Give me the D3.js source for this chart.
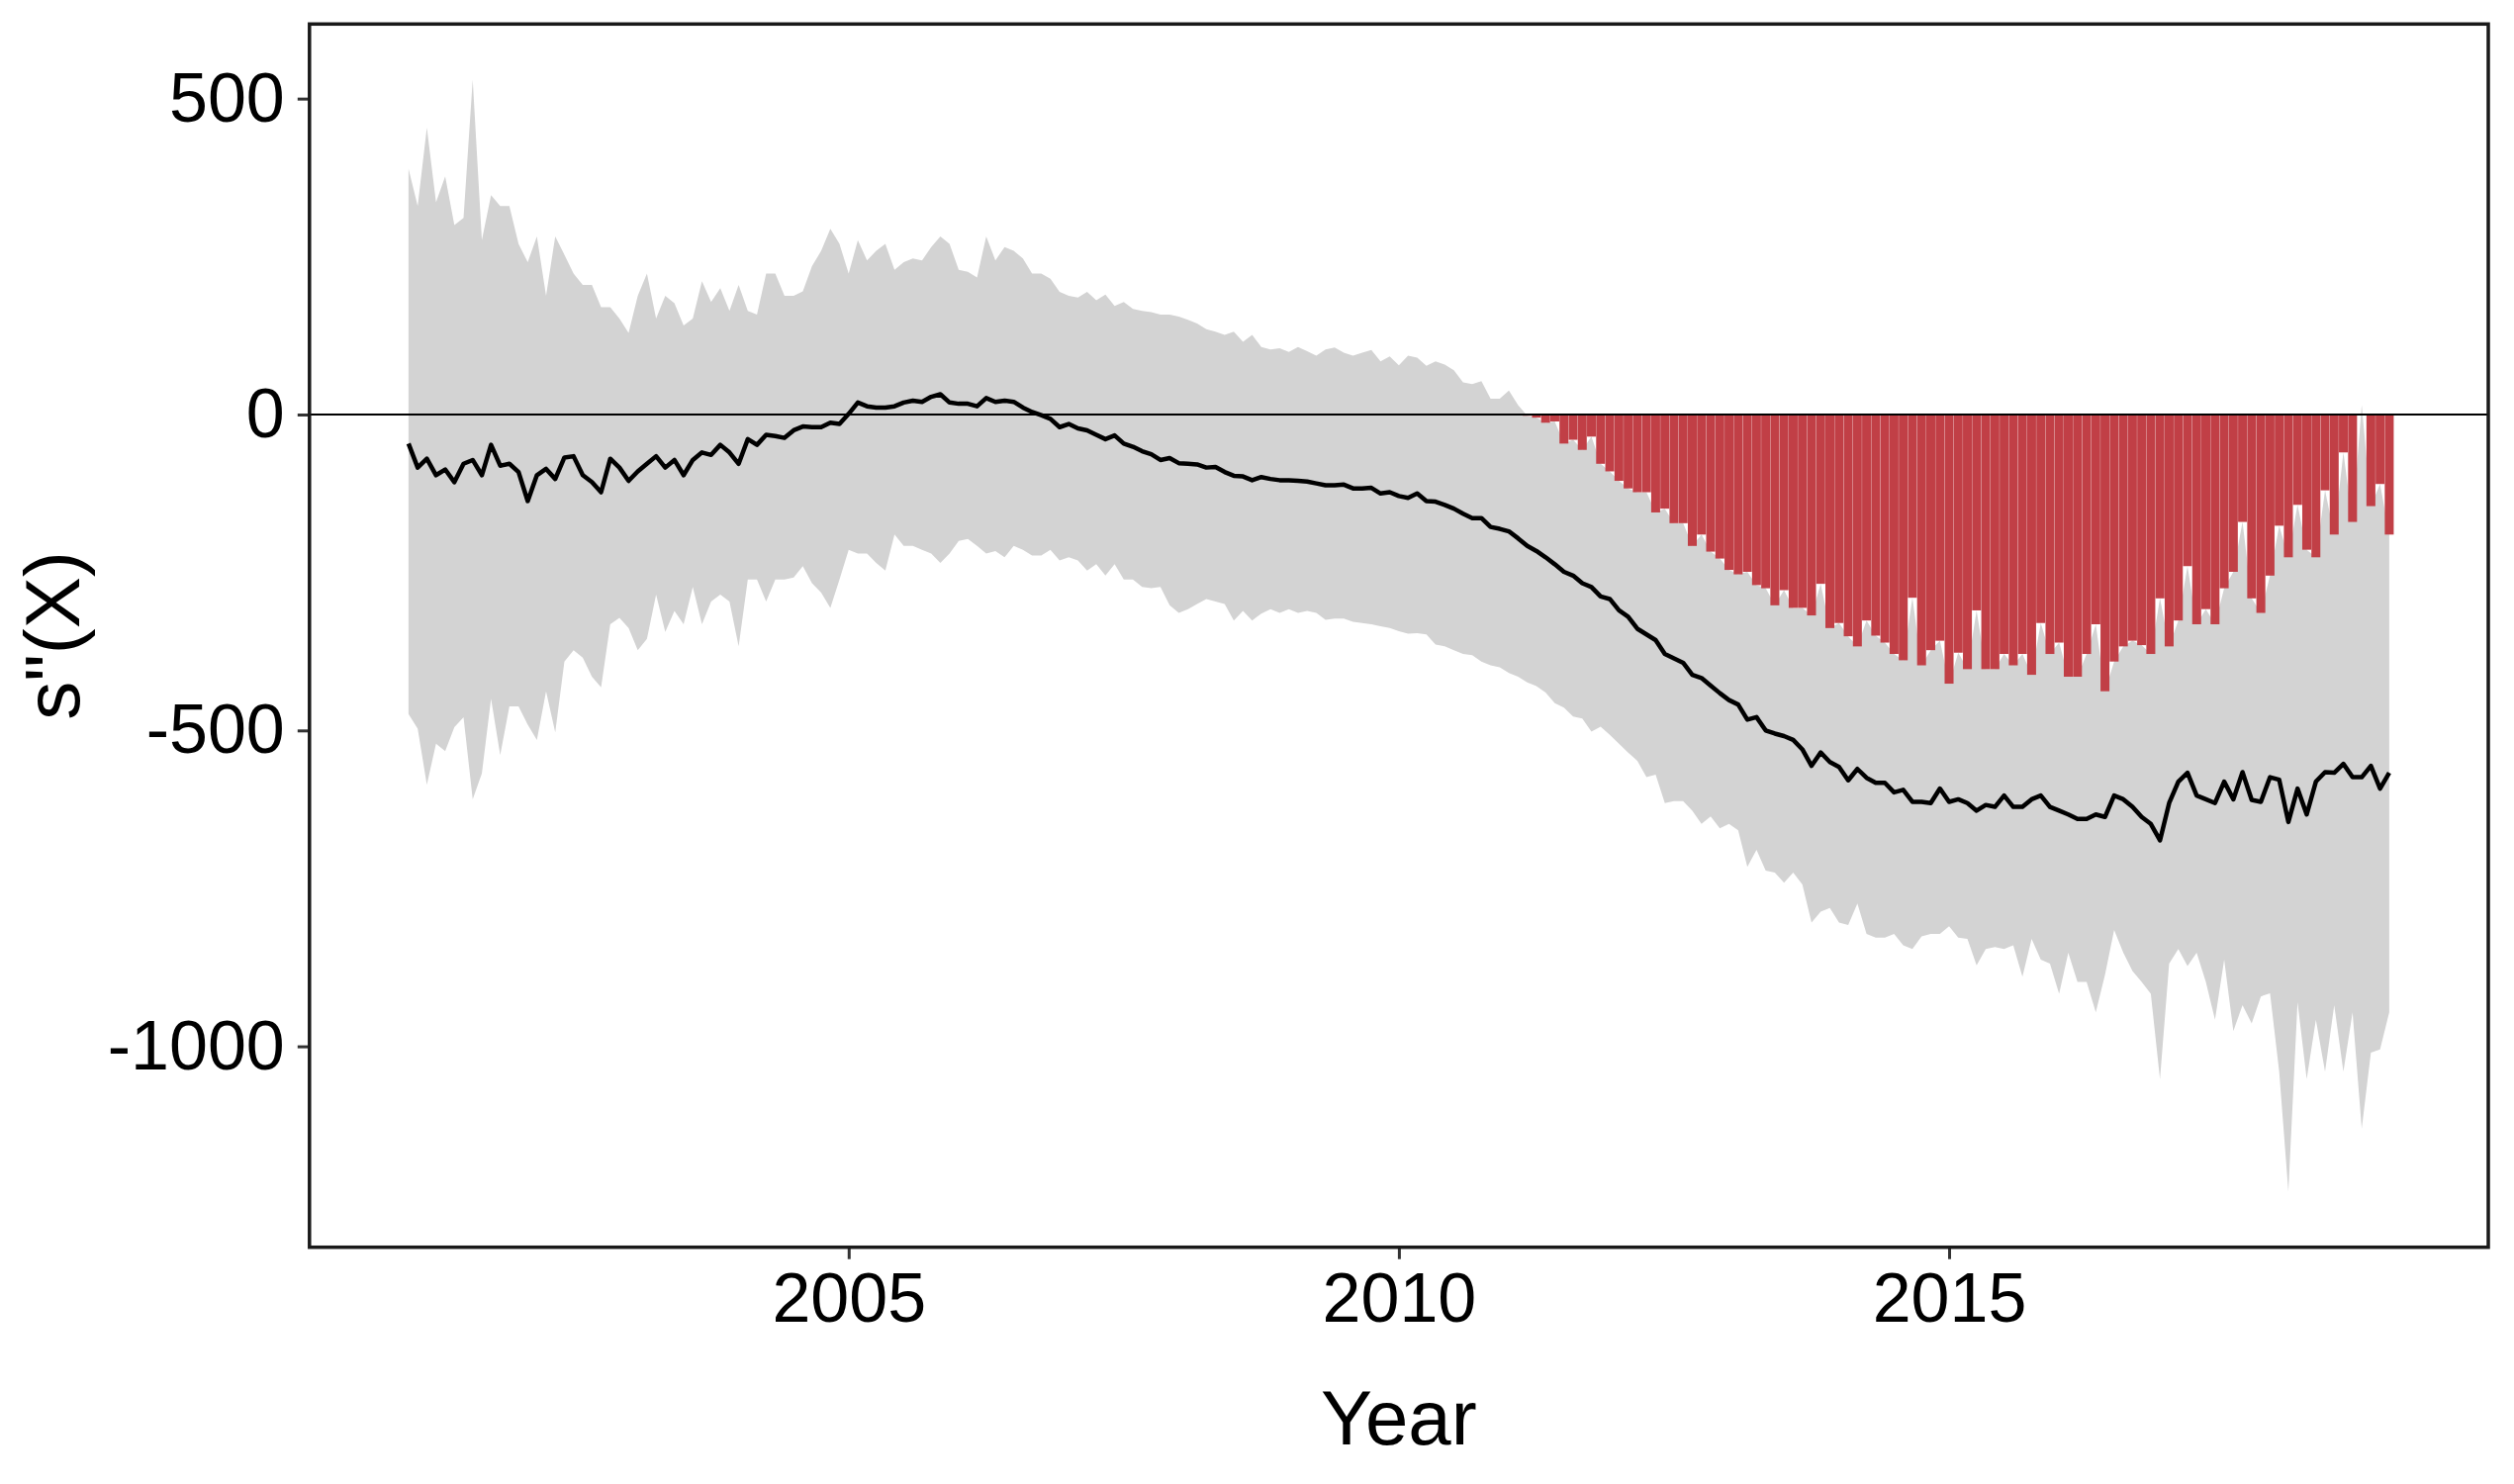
<!DOCTYPE html>
<html>
<head>
<meta charset="utf-8">
<script src="https://cdn.jsdelivr.net/npm/d3@7"></script>
<style>
  html, body { margin: 0; padding: 0; background: #ffffff; }
  svg { display: block; }
  text { font-family: "Liberation Sans", Arial, Helvetica, sans-serif; }
</style>
</head>
<body>
<svg id="chart" width="2541" height="1500"></svg>
<script>
// ---- Data (monthly samples, Jan 2001 .. Jan 2019) ----
const startYear = 2001;
const stepsPerYear = 12;

const estimate = [
  -46,-84,-70,-96,-87,-107,-78,-72,-96,-48,-81,-78,-91,-137,-96,-86,-102,-68,-66,-96,
  -107,-123,-70,-84,-105,-90,-78,-66,-84,-72,-96,-72,-60,-64,-48,-60,-78,-39,-48,-32,
  -34,-37,-25,-19,-20,-20,-13,-15,1,19,13,11,11,13,19,22,20,28,32,19,
  17,17,13,26,20,22,20,11,4,-1,-7,-20,-15,-22,-25,-32,-39,-33,-46,-51,
  -58,-63,-72,-69,-77,-78,-79,-84,-83,-91,-97,-98,-104,-99,-102,-104,-104,-105,-106,-109,
  -112,-112,-111,-117,-117,-116,-125,-123,-129,-132,-125,-137,-138,-143,-149,-157,-164,-164,-178,-181,
  -185,-196,-208,-216,-226,-237,-249,-255,-267,-273,-288,-292,-310,-320,-339,-348,-357,-379,-386,-393,
  -412,-417,-429,-441,-452,-459,-483,-479,-500,-505,-509,-515,-530,-556,-535,-550,-558,-579,-561,-575,
  -583,-583,-598,-594,-613,-613,-615,-592,-613,-609,-615,-627,-618,-621,-603,-621,-621,-609,-603,-621,
  -627,-633,-640,-640,-633,-637,-603,-609,-621,-637,-648,-674,-615,-581,-567,-603,-609,-615,-581,-609,
  -566,-610,-613,-574,-578,-645,-592,-633,-581,-566,-567,-553,-574,-574,-556,-592,-567
];

const upper = [
  389,330,454,336,377,300,311,530,276,347,330,330,270,241,282,188,282,253,223,205,
  205,170,170,152,129,188,223,152,188,176,141,152,211,178,200,164,205,164,158,223,
  223,188,188,195,235,259,294,270,223,276,244,259,270,229,241,247,244,265,282,270,
  229,226,217,282,244,265,259,247,223,223,215,194,188,185,194,181,190,172,178,167,
  164,162,158,158,155,150,144,135,131,126,131,115,126,107,103,105,99,107,100,93,
  103,106,98,93,98,102,84,92,78,93,90,77,84,79,70,51,48,53,25,25,
  38,15,-2,-5,-13,-11,-46,-40,-56,-35,-78,-90,-105,-117,-123,-123,-155,-149,-172,-172,
  -208,-190,-217,-228,-246,-253,-249,-270,-275,-302,-278,-306,-306,-318,-268,-338,-330,-351,-367,-326,
  -350,-361,-379,-389,-290,-397,-373,-358,-426,-377,-403,-310,-403,-403,-379,-397,-379,-412,-330,-379,
  -361,-415,-415,-379,-332,-438,-391,-367,-358,-365,-379,-291,-367,-326,-240,-332,-308,-332,-275,-249,
  -170,-291,-314,-255,-176,-226,-143,-214,-226,-120,-190,-60,-170,15,-145,-110,-190
];

const lower = [
  -474,-497,-586,-521,-533,-495,-479,-609,-568,-450,-539,-462,-462,-491,-515,-438,-503,-391,-373,-385,
  -415,-432,-332,-322,-338,-373,-355,-285,-344,-311,-332,-273,-332,-296,-285,-296,-367,-261,-261,-296,
  -261,-261,-258,-240,-267,-282,-306,-261,-214,-220,-220,-235,-247,-190,-208,-208,-214,-220,-235,-220,
  -200,-197,-208,-220,-216,-226,-208,-214,-223,-223,-214,-231,-226,-231,-247,-237,-255,-237,-261,-261,
  -273,-275,-273,-302,-314,-308,-300,-292,-296,-300,-326,-311,-326,-315,-308,-314,-308,-314,-311,-314,
  -325,-323,-323,-328,-330,-332,-335,-338,-343,-347,-346,-348,-364,-367,-373,-379,-381,-391,-397,-400,
  -409,-415,-424,-430,-440,-457,-464,-478,-481,-502,-494,-507,-521,-535,-548,-574,-570,-615,-612,-612,
  -627,-648,-636,-655,-648,-658,-716,-689,-722,-725,-741,-725,-744,-804,-787,-781,-804,-808,-774,-822,
  -828,-828,-822,-840,-846,-826,-822,-822,-810,-828,-830,-872,-846,-843,-846,-840,-890,-830,-863,-869,
  -917,-852,-898,-898,-946,-887,-816,-852,-881,-898,-917,-1052,-869,-846,-873,-852,-898,-958,-863,-976,
  -935,-964,-921,-916,-1040,-1230,-930,-1052,-958,-1040,-935,-1040,-946,-1130,-1010,-1005,-946
];

const xTicks = [2005, 2010, 2015];
const yTicks = [-1000, -500, 0, 500];
const xTitle = "Year";
const yTitle = 's"(X)';

// ---- Build rows ----
const data = estimate.map((v, i) => ({
  t: startYear + i / stepsPerYear,
  est: v,
  up: upper[i],
  lo: lower[i]
}));

// ---- Layout ----
const panel = { left: 312.8, right: 2515, top: 24.3, bottom: 1260.7 };
const svg = d3.select("#chart");

const tExtent = d3.extent(data, d => d.t);
const tPad = (tExtent[1] - tExtent[0]) * 0.05;
const x = d3.scaleLinear()
  .domain([tExtent[0] - tPad, tExtent[1] + tPad])
  .range([panel.left, panel.right]);

const yMin = d3.min(lower), yMax = d3.max(upper);
const yPad = (yMax - yMin) * 0.05;
const y = d3.scaleLinear()
  .domain([yMin - yPad, yMax + yPad])
  .range([panel.bottom, panel.top]);

// clip to panel
svg.append("defs").append("clipPath").attr("id", "clip")
  .append("rect")
  .attr("x", panel.left).attr("y", panel.top)
  .attr("width", panel.right - panel.left)
  .attr("height", panel.bottom - panel.top);

const plot = svg.append("g").attr("clip-path", "url(#clip)");

// ribbon
const area = d3.area()
  .x(d => x(d.t))
  .y0(d => y(d.lo))
  .y1(d => y(d.up));
plot.append("path")
  .datum(data)
  .attr("d", area)
  .attr("fill", "#d3d3d3");

// red bars where upper bound below zero
const step = x(startYear + 1 / stepsPerYear) - x(startYear);
const bw = step - 0.25;
plot.append("g")
  .selectAll("rect")
  .data(data.filter(d => d.up < 0))
  .join("rect")
  .attr("x", d => x(d.t) - bw / 2)
  .attr("y", y(0))
  .attr("width", bw)
  .attr("height", d => y(d.up) - y(0))
  .attr("fill", "#c13f46");

// zero line
plot.append("line")
  .attr("x1", panel.left).attr("x2", panel.right)
  .attr("y1", y(0)).attr("y2", y(0))
  .attr("stroke", "#000000")
  .attr("stroke-width", 1.8);

// estimate line
const line = d3.line()
  .x(d => x(d.t))
  .y(d => y(d.est));
plot.append("path")
  .datum(data)
  .attr("d", line)
  .attr("fill", "none")
  .attr("stroke", "#000000")
  .attr("stroke-width", 4.5)
  .attr("stroke-linejoin", "round");

// axes
const yAxis = svg.append("g")
  .attr("transform", `translate(${panel.left},0)`)
  .call(d3.axisLeft(y).tickValues(yTicks).tickFormat(d => String(d)).tickSize(12).tickPadding(13));
const xAxis = svg.append("g")
  .attr("transform", `translate(0,${panel.bottom})`)
  .call(d3.axisBottom(x).tickValues(xTicks).tickFormat(d => String(d)).tickSize(12).tickPadding(14));

[yAxis, xAxis].forEach(g => {
  g.select(".domain").remove();
  g.selectAll(".tick line").attr("stroke", "#333333").attr("stroke-width", 3);
  g.selectAll(".tick text")
    .attr("fill", "#000000")
    .style("font-size", "70px")
    .style("font-family", '"Liberation Sans", Arial, sans-serif');
});

// panel border
svg.append("rect")
  .attr("x", panel.left).attr("y", panel.top)
  .attr("width", panel.right - panel.left)
  .attr("height", panel.bottom - panel.top)
  .attr("fill", "none")
  .attr("stroke", "#1a1a1a")
  .attr("stroke-width", 3.5);

// titles
svg.append("text")
  .attr("x", (panel.left + panel.right) / 2)
  .attr("y", 1460)
  .attr("text-anchor", "middle")
  .style("font-size", "78px")
  .attr("fill", "#000")
  .text(xTitle);

svg.append("text")
  .attr("transform", `translate(80,${(panel.top + panel.bottom) / 2}) rotate(-90)`)
  .attr("text-anchor", "middle")
  .style("font-size", "78px")
  .attr("fill", "#000")
  .text(yTitle);
</script>
</body>
</html>
